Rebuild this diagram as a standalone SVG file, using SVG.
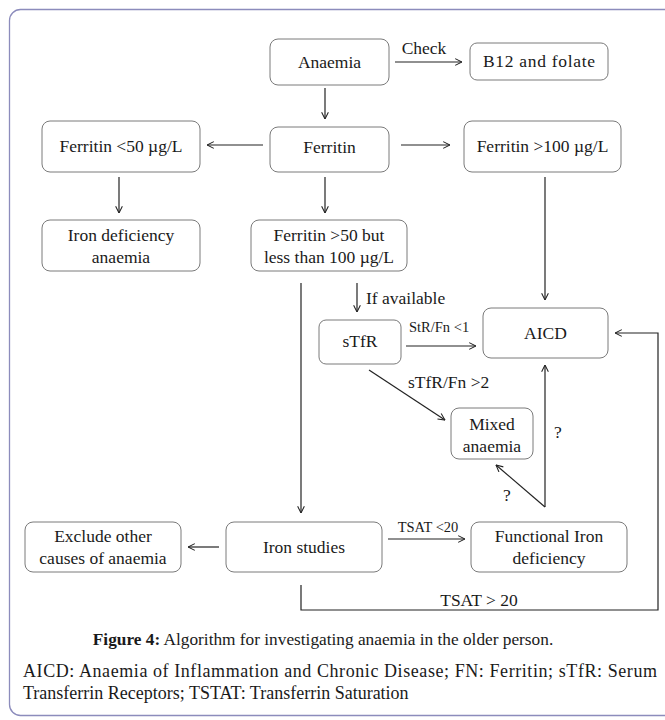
<svg xmlns="http://www.w3.org/2000/svg" width="665" height="720" viewBox="0 0 665 720" font-family="'Liberation Serif','Times New Roman',serif">
<defs>
<style>
text{font-family:"Liberation Serif","Times New Roman",serif;fill:#1a1a1a}
.box{fill:#fff;stroke:#7a7a7a;stroke-width:1}
.t{font-size:17.5px;text-anchor:middle}
.s{font-size:14.5px}
.l{font-size:17.5px}
.f{font-size:18px}
.c{fill:none;stroke:#222;stroke-width:1.2}
.a{marker-end:url(#ah)}
</style>
<marker id="ah" viewBox="0 0 10 10" refX="9.5" refY="5" markerWidth="8" markerHeight="8" markerUnits="userSpaceOnUse" orient="auto">
<path d="M1,0.8 L9.5,5 L1,9.2" fill="none" stroke="#222" stroke-width="1.3"/>
</marker>
</defs>
<rect width="665" height="720" fill="#fff"/>
<rect x="9.5" y="9.5" width="680" height="706" rx="11" fill="none" stroke="#8c8cbc" stroke-width="1.3"/>

<g id="anaemia"><rect class="box" x="270" y="39" width="119" height="46" rx="8"/><text class="t" x="329.5" y="68">Anaemia</text></g>
<g id="b12"><rect class="box" x="470" y="43" width="138" height="37" rx="7"/><text class="t" x="539" y="67" textLength="112" lengthAdjust="spacing">B12 and folate</text></g>
<g id="ferritin"><rect class="box" x="270" y="127" width="119" height="45" rx="8"/><text class="t" x="329.5" y="153">Ferritin</text></g>
<g id="ferritin-lt50"><rect class="box" x="42" y="121" width="158" height="51" rx="8"/><text class="t" x="121" y="152">Ferritin &lt;50 µg/L</text></g>
<g id="ferritin-gt100"><rect class="box" x="464" y="121" width="157" height="51" rx="8"/><text class="t" x="542.5" y="152">Ferritin &gt;100 µg/L</text></g>
<g id="ida"><rect class="box" x="42" y="220" width="158" height="51" rx="8"/><text class="t" x="121" y="241">Iron deficiency</text><text class="t" x="121" y="263">anaemia</text></g>
<g id="ferritin-mid"><rect class="box" x="251" y="220" width="156" height="51" rx="8"/><text class="t" x="329" y="241">Ferritin &gt;50 but</text><text class="t" x="329" y="263">less than 100 µg/L</text></g>
<g id="stfr"><rect class="box" x="319" y="320" width="82" height="44" rx="7"/><text class="t" x="360" y="347">sTfR</text></g>
<g id="aicd"><rect class="box" x="483" y="308" width="125" height="50" rx="8"/><text class="t" x="545.5" y="339">AICD</text></g>
<g id="mixed"><rect class="box" x="451" y="408" width="82" height="51" rx="8"/><text class="t" x="492" y="430">Mixed</text><text class="t" x="492" y="452">anaemia</text></g>
<g id="exclude"><rect class="box" x="25" y="522" width="156" height="50" rx="8"/><text class="t" x="103" y="542">Exclude other</text><text class="t" x="103" y="564">causes of anaemia</text></g>
<g id="iron-studies"><rect class="box" x="226" y="522" width="156" height="50" rx="8"/><text class="t" x="304" y="553">Iron studies</text></g>
<g id="functional"><rect class="box" x="471" y="522" width="156" height="50" rx="8"/><text class="t" x="549" y="542">Functional Iron</text><text class="t" x="549" y="564">deficiency</text></g>

<g id="connectors">
<line class="c a" x1="395" y1="62" x2="462" y2="62"/>
<line class="c a" x1="325" y1="88" x2="325" y2="119"/>
<line class="c a" x1="263" y1="145" x2="207" y2="145"/>
<line class="c a" x1="401" y1="145" x2="450" y2="145"/>
<line class="c a" x1="119" y1="177" x2="119" y2="213"/>
<line class="c a" x1="325" y1="177" x2="325" y2="213"/>
<line class="c a" x1="545" y1="177" x2="545" y2="300"/>
<line class="c a" x1="301" y1="283" x2="301" y2="513"/>
<line class="c a" x1="357" y1="283" x2="357" y2="312"/>
<line class="c a" x1="406" y1="346" x2="476" y2="346"/>
<line class="c a" x1="369" y1="370" x2="445" y2="420"/>
<line class="c a" x1="545" y1="507" x2="545" y2="365"/>
<line class="c a" x1="545" y1="507" x2="496" y2="465"/>
<line class="c a" x1="219" y1="547" x2="188" y2="547"/>
<line class="c a" x1="388" y1="539" x2="465" y2="539"/>
<polyline class="c a" points="301,585 301,610 658,610 658,333 615,333"/>
<text class="l" x="424" y="54" text-anchor="middle">Check</text>
<text class="l" x="366" y="304">If available</text>
<text class="s" x="409" y="332">StR/Fn &lt;1</text>
<text class="l" x="408" y="388">sTfR/Fn &gt;2</text>
<text class="l" x="558" y="438" text-anchor="middle">?</text>
<text class="l" x="507" y="501" text-anchor="middle">?</text>
<text class="s" x="428" y="532" text-anchor="middle">TSAT &lt;20</text>
<text class="l" x="479" y="606" text-anchor="middle">TSAT &gt; 20</text>
</g>

<text class="f" x="323" y="645" text-anchor="middle" style="font-size:17.3px"><tspan font-weight="bold">Figure 4:</tspan> Algorithm for investigating anaemia in the older person.</text>
<text class="f" x="23" y="677" textLength="634" lengthAdjust="spacing">AICD: Anaemia of Inflammation and Chronic Disease; FN: Ferritin; sTfR: Serum</text>
<text class="f" x="23" y="699">Transferrin Receptors; TSTAT: Transferrin Saturation</text>
</svg>
